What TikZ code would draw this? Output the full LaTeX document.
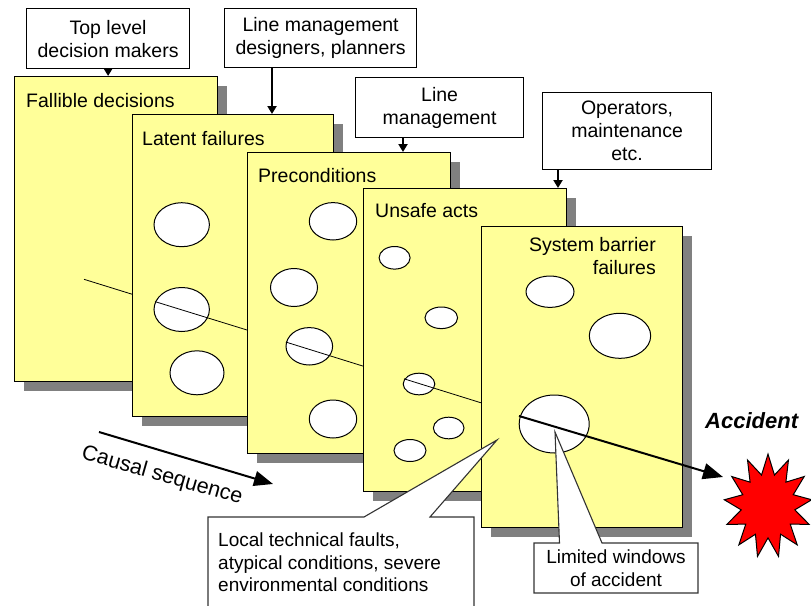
\documentclass[tikz,border=0pt]{standalone}
\usepackage{fontspec}
\setmainfont{Liberation Sans}
\usetikzlibrary{arrows.meta,shadows}
\definecolor{sheet}{HTML}{FFFF99}
\definecolor{shade}{HTML}{808080}
\definecolor{burstred}{HTML}{FF0000}
\begin{document}
\begin{tikzpicture}[x=1pt,y=-1pt,
  txt/.style={font=\fontsize{19.5}{23}\selectfont, inner sep=0pt},
  topbox/.style={draw, line width=1.2pt, fill=white, align=center, inner sep=0pt,
    font=\fontsize{19.5}{23}\selectfont, anchor=north west},
  panel/.style={draw, line width=1.3pt, fill=sheet, anchor=north west, inner sep=0pt,
    drop shadow={shadow xshift=9pt, shadow yshift=-9pt, fill=shade, opacity=1}},
  hole/.style={draw, line width=1pt, fill=white},
  sight/.style={line width=0.8pt},
  feed/.style={line width=2pt, -{Triangle[length=8pt,width=9pt]}},
  bigarrow/.style={line width=2pt, -{Triangle[length=20pt,width=16pt]}},
  callout/.style={draw=black!80, line width=1.1pt, fill=white, line join=miter},
  burst/.style={draw, line width=1pt, fill=burstred, line join=miter}]
\useasboundingbox (0,0) rectangle (811,605);

% decision-maker boxes along the top
\node[topbox, minimum width=163pt, minimum height=60pt] (tb1) at (26,8) {Top level\\decision makers};
\node[topbox, minimum width=192pt, minimum height=59pt] (tb2) at (224,8) {Line management\\designers, planners};
\node[topbox, minimum width=168pt, minimum height=60pt] (tb3) at (355,77) {Line\\management};
\node[topbox, minimum width=169pt, minimum height=77pt] (tb4) at (542,92) {Operators,\\maintenance\\etc.};

% trajectory of the accident through the slices
\coordinate (s1a) at (84,279.3);   \coordinate (s1b) at (132,294.2);
\coordinate (s2a) at (155,301.6);  \coordinate (s2b) at (247,330);
\coordinate (s3a) at (286,342.1);  \coordinate (s3b) at (363,366.1);
\coordinate (s4a) at (404,378.8);  \coordinate (s4b) at (481,402.8);
\coordinate (s5a) at (519,416);    \coordinate (s5b) at (723,477);

% slice 1
\node[panel, minimum width=203pt, minimum height=305pt] (p1) at (14,76) {};
\node[txt, anchor=base west] (l1) at (26,107.5) {Fallible decisions};
\draw[sight] (s1a) -- (s1b);

% slice 2
\node[panel, minimum width=201pt, minimum height=302pt] (p2) at (132,114) {};
\node[txt, anchor=base west] (l2) at (142,145.5) {Latent failures};
\draw[hole] (181.7,224.7) ellipse [x radius=27.7pt, y radius=22pt];
\draw[hole] (181.7,309.5) ellipse [x radius=27.7pt, y radius=22pt];
\draw[hole] (197,372.8) ellipse [x radius=27pt, y radius=22pt];
\draw[sight] (s2a) -- (s2b);

% slice 3
\node[panel, minimum width=203pt, minimum height=301pt] (p3) at (247,152) {};
\node[txt, anchor=base west] (l3) at (258,182.3) {Preconditions};
\draw[hole] (333,221.3) ellipse [x radius=23.7pt, y radius=18.7pt];
\draw[hole] (294,287.5) ellipse [x radius=23.5pt, y radius=19pt];
\draw[hole] (309.3,346.3) ellipse [x radius=23.3pt, y radius=18.7pt];
\draw[hole] (333,419) ellipse [x radius=23.7pt, y radius=19pt];
\draw[sight] (s3a) -- (s3b);

% slice 4
\node[panel, minimum width=203pt, minimum height=303pt] (p4) at (363,188) {};
\node[txt, anchor=base west] (l4) at (375,217.3) {Unsafe acts};
\draw[hole] (394.6,257.8) ellipse [x radius=15.5pt, y radius=11.3pt];
\draw[hole] (441.3,317.8) ellipse [x radius=16.3pt, y radius=10.8pt];
\draw[hole] (419,384) ellipse [x radius=15.8pt, y radius=10.8pt];
\draw[hole] (448.7,428) ellipse [x radius=15.3pt, y radius=10.8pt];
\draw[hole] (410,450.5) ellipse [x radius=16pt, y radius=11pt];
\draw[sight] (s4a) -- (s4b);

% slice 5
\node[panel, minimum width=201pt, minimum height=301pt] (p5) at (481,226) {};
\node[txt, anchor=base east, align=right] (l5) at (656,274.3) {System barrier\\failures};
\draw[hole] (550,291.7) ellipse [x radius=24pt, y radius=15.7pt];
\draw[hole] (620,335.8) ellipse [x radius=30.7pt, y radius=22.5pt];
\draw[hole] (554.2,424) ellipse [x radius=35pt, y radius=29pt];
\draw[bigarrow] (s5a) -- (s5b);

% feeds from the decision makers into the slices
\coordinate (k2) at (272,0);
\coordinate (k3) at (403,0);
\coordinate (k4) at (558,0);
\draw[feed] (tb1.south) -- (tb1.south |- p1.north);
\draw[feed] (k2 |- tb2.south) -- (k2 |- p2.north);
\draw[feed] (k3 |- tb3.south) -- (k3 |- p3.north);
\draw[feed] (k4 |- tb4.south) -- (k4 |- p4.north);

% causal sequence arrow
\coordinate (c1) at (99,432);
\coordinate (c2) at (273,484);
\draw[line width=2pt, -{Triangle[length=19pt,width=15pt]}] (c1) -- (c2);
\node[font=\fontsize{21.5}{24}\selectfont, inner sep=0pt, rotate=-16] (cs) at (162,476) {Causal sequence};

% accident burst
\node[font=\fontsize{22}{26}\selectfont\bfseries\itshape, inner sep=0pt, anchor=base west] (acc) at (705,428.3) {Accident};
\draw[burst, shift={(768,506)}, yscale=1.18]
  (-90:44) \foreach \k in {1,...,12} { -- (-90+\k*27.69-13.85:27) -- (-90+\k*27.69:44) }
  -- (-90+13*27.69-13.85:27) -- cycle;

% callouts
\draw[callout] (208,608) -- (208,517) -- (364,517) -- (497,440) -- (430,517) -- (474,517) -- (474,608);
\node[font=\fontsize{19}{22.5}\selectfont, inner sep=0pt, align=left, anchor=base west] (n1) at (218,591.7)
  {Local technical faults,\\atypical conditions, severe\\environmental conditions};
\draw[callout] (534,543) -- (559.5,543) -- (555,432) -- (602,543) -- (698,543) -- (698,593) -- (534,593) -- cycle;
\node[font=\fontsize{19}{23}\selectfont, inner sep=0pt, align=center, anchor=base] (n2) at (616,586.7)
  {Limited windows\\of accident};
\end{tikzpicture}
\end{document}
